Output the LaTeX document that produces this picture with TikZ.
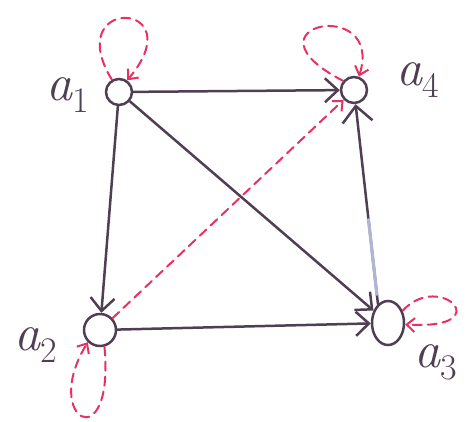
\documentclass[tikz,border=0pt]{standalone}
\usetikzlibrary{arrows.meta,shapes.geometric,calc}
\definecolor{ink}{RGB}{80,62,82}
\definecolor{pen}{RGB}{232,48,100}
\definecolor{fade}{RGB}{178,180,212}
\newcommand{\vlab}[1]{{\fontsize{52}{52}\selectfont\itshape a}{\fontsize{36}{36}\selectfont\raisebox{-12pt}{#1}}}
\begin{document}
\begin{tikzpicture}[x=1pt,y=-1pt,
  vert/.style={draw=ink,line width=2.5pt,circle,inner sep=0pt,minimum size=26pt},
  lab/.style={text=ink,inner sep=0pt},
  edge/.style={draw=ink,line width=2.5pt,line cap=round,-{Straight Barb[length=13pt,width=24pt]}},
  redd/.style={draw=pen,line width=2pt,line cap=round,dash pattern=on 9pt off 6pt,-{Straight Barb[length=8pt,width=14pt]}}]
\useasboundingbox (0,0) rectangle (471,421);
\node[vert] (a1) at (119,92) {};
\node[vert] (a4) at (354,90) {};
\node[vert,minimum size=32pt] (a2) at (100,330) {};
\node[vert,ellipse,minimum width=32pt,minimum height=44pt] (a3) at (388,323) {};
\node[lab] (l1) at (68,95) {\vlab{1}};
\node[lab] (l4) at (418,80) {\vlab{4}};
\node[lab] (l2) at (36,345) {\vlab{2}};
\node[lab] (l3) at (436,362) {\vlab{3}};
\draw[edge] (a1) -- (a4);
\draw[edge] (a1) -- (a3);
\draw[edge] (a1) -- (a2);
\draw[edge] (a2) -- (a3);
\draw[edge,-{Straight Barb[length=16pt,width=30pt]}] (a3.118) -- (a4);
\draw[fade,line width=3.2pt] ($(a3.118)!0.04!(a4)$) -- ($(a3.118)!0.4!(a4)$);
\draw[redd] (a2) -- (a4);
\draw[redd] (a1.120) .. controls (60,-5) and (195,0) .. (a1.55);
\draw[redd] (a4.140) .. controls (235,25) and (385,-5) .. (a4.70);
\draw[redd] (a2.-75) .. controls (115,460) and (40,420) .. (a2.225);
\draw[redd] (a3.40) .. controls (440,270) and (500,330) .. (a3.-5);
\end{tikzpicture}
\end{document}
